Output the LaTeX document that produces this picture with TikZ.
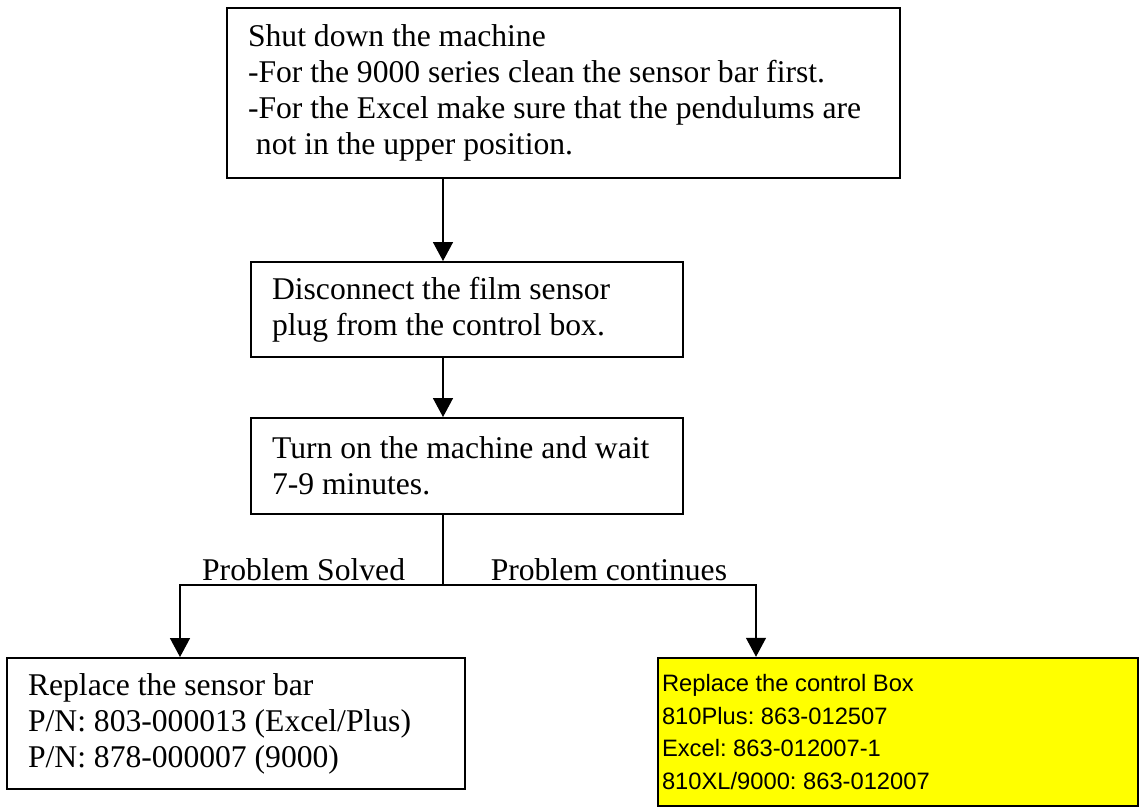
\documentclass[tikz,border=0pt]{standalone}
\usepackage{fontspec}
\setmainfont{Liberation Serif}
\newfontfamily\arialfont{Liberation Sans}
\usetikzlibrary{arrows.meta}
\definecolor{partyellow}{RGB}{255,255,0}
\frenchspacing

\begin{document}
\begin{tikzpicture}[x=0.02cm, y=-0.02cm,
    box/.style={draw, line width=1.1pt, align=flush left, inner xsep=0.42cm, inner ysep=0pt,
                font=\fontsize{18}{20.5}\selectfont},
    partbox/.style={draw, line width=1.4pt, fill=partyellow, align=flush left, inner xsep=0.08cm, inner ysep=0pt,
                font=\arialfont\fontsize{13.5}{18.5}\selectfont},
    arrow/.style={line width=0.8pt, -{Triangle[width=0.4cm, length=0.38cm]}},
    lbl/.style={above, inner sep=2pt, font=\fontsize{18}{20.5}\selectfont}]
  \useasboundingbox (0,0) rectangle (1139,810);

  \node [box, text width=12.62cm, minimum height=3.4cm] (shut) at (563.5,93)
    {Shut down the machine\\
     -For the 9000 series clean the sensor bar first.\\
     -For the Excel make sure that the pendulums are\\
     \hspace*{0.25em}not in the upper position.};
  \node [box, text width=7.8cm, minimum height=1.9cm] (disc) at (467,309.5)
    {Disconnect the film sensor\\ plug from the control box.};
  \node [box, text width=7.8cm, minimum height=1.92cm] (wait) at (467,466)
    {Turn on the machine and wait\\ 7-9 minutes.};
  \node [box, text width=8.32cm, minimum height=2.62cm] (sensor) at (236,723.5)
    {Replace the sensor bar\\
     P/N: 803-000013 (Excel/Plus)\\
     P/N: 878-000007 (9000)};
  \node [partbox, text width=9.44cm, minimum height=2.96cm] (ctrl) at (898,732)
    {Replace the control Box\\
     810Plus: 863-012507\\
     Excel: 863-012007-1\\
     810XL/9000: 863-012007};

  \coordinate (mid) at (443,0);
  \coordinate (split) at (443,585);
  \coordinate (solvedpt) at (180,585);
  \coordinate (contpt) at (756,585);

  \draw [arrow] (shut.south -| mid) -- (disc.north -| mid);
  \draw [arrow] (disc.south -| mid) -- (wait.north -| mid);
  \draw [line width=0.8pt] (wait.south -| split) -- (split);
  \draw [arrow] (split) -- node [lbl, pos=0.53] {Problem Solved} (solvedpt)
                -- (sensor.north -| solvedpt);
  \draw [arrow] (split) -- node [lbl, pos=0.53] {Problem continues} (contpt)
                -- (ctrl.north -| contpt);
\end{tikzpicture}
\end{document}
